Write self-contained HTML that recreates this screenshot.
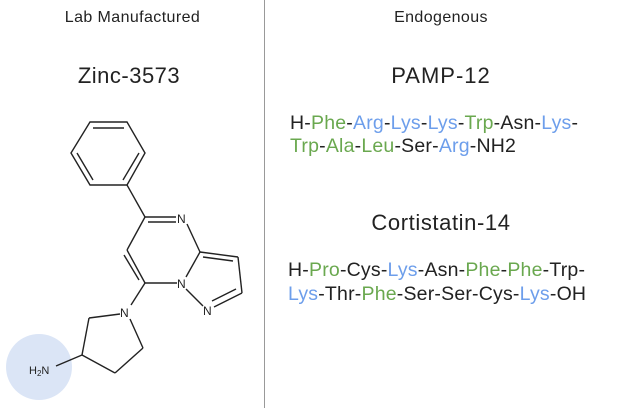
<!DOCTYPE html><html><head><style>
body{margin:0;width:617px;height:408px;background:#fff;font-family:"Liberation Sans",sans-serif;position:relative;overflow:hidden;color:#222}
.t{position:absolute;white-space:nowrap}
.g{color:#6aa84f}.b{color:#6d9eeb}
</style></head><body>
<div style="position:absolute;left:264px;top:0;width:1px;height:408px;background:#999"></div>
<div class="t" style="left:0;width:265px;text-align:center;top:9px;font-size:16px;letter-spacing:0.4px">Lab Manufactured</div>
<div class="t" style="left:265px;width:352px;text-align:center;top:9px;font-size:16px;letter-spacing:0.4px">Endogenous</div>
<div class="t" style="left:0;width:258px;text-align:center;top:63px;font-size:22px;letter-spacing:0.5px">Zinc-3573</div>
<div class="t" style="left:265px;width:352px;text-align:center;top:63px;font-size:22px;letter-spacing:1px">PAMP-12</div>
<div class="t" style="left:265px;width:352px;text-align:center;top:210px;font-size:22px;letter-spacing:0.6px">Cortistatin-14</div>
<div class="t" style="left:290px;top:112px;font-size:19.5px;line-height:23px;letter-spacing:0.2px">H-<span class="g">Phe</span>-<span class="b">Arg</span>-<span class="b">Lys</span>-<span class="b">Lys</span>-<span class="g">Trp</span>-Asn-<span class="b">Lys</span>-<br><span class="g">Trp</span>-<span class="g">Ala</span>-<span class="g">Leu</span>-Ser-<span class="b">Arg</span>-NH2</div>
<div class="t" style="left:288px;top:258px;font-size:19.5px;line-height:24px;letter-spacing:0.2px">H-<span class="g">Pro</span>-Cys-<span class="b">Lys</span>-Asn-<span class="g">Phe</span>-<span class="g">Phe</span>-Trp-<br><span class="b">Lys</span>-Thr-<span class="g">Phe</span>-Ser-Ser-Cys-<span class="b">Lys</span>-OH</div>
<svg width="265" height="408" style="position:absolute;left:0;top:0" stroke="#222" stroke-width="1.4" fill="none">
<circle cx="39" cy="367" r="33" fill="#dbe5f6" stroke="none"/>
<polygon points="90,122 127,122 145,153 127,185 90,185 71,153"/>
<line x1="93" y1="128" x2="124" y2="128"/><line x1="139" y1="153" x2="123" y2="180"/><line x1="77" y1="153" x2="93" y2="180"/>
<line x1="127" y1="185" x2="145" y2="217"/>
<line x1="145" y1="217" x2="176" y2="217"/><line x1="148" y1="222" x2="176" y2="222"/>
<line x1="187" y1="224" x2="200" y2="252"/>
<line x1="200" y1="252" x2="238" y2="257"/><line x1="203" y1="257" x2="233" y2="261"/>
<line x1="238" y1="257" x2="242" y2="293"/>
<line x1="242" y1="293" x2="214" y2="307"/><line x1="236" y1="289" x2="212" y2="301"/>
<line x1="203" y1="306" x2="186" y2="289"/>
<line x1="186" y1="277" x2="200" y2="252"/>
<line x1="177" y1="283" x2="145" y2="283"/>
<line x1="145" y1="283" x2="127" y2="250"/><line x1="139" y1="280" x2="124" y2="255"/>
<line x1="127" y1="250" x2="145" y2="217"/>
<line x1="145" y1="283" x2="131" y2="305"/>
<line x1="120" y1="314" x2="89" y2="318"/><line x1="89" y1="318" x2="82" y2="355"/>
<line x1="82" y1="355" x2="115" y2="373"/><line x1="115" y1="373" x2="143" y2="348"/>
<line x1="143" y1="348" x2="130" y2="319"/>
<line x1="82" y1="355" x2="56" y2="366"/>
<g fill="#222" stroke="none" font-family="Liberation Sans,sans-serif" font-size="12">
<text x="177" y="223">N</text><text x="177" y="288">N</text><text x="203" y="315">N</text><text x="120" y="317">N</text>
<text x="29" y="374" font-size="11">H<tspan font-size="8" dy="2">2</tspan><tspan dy="-2">N</tspan></text>
</g>
</svg>
</body></html>
